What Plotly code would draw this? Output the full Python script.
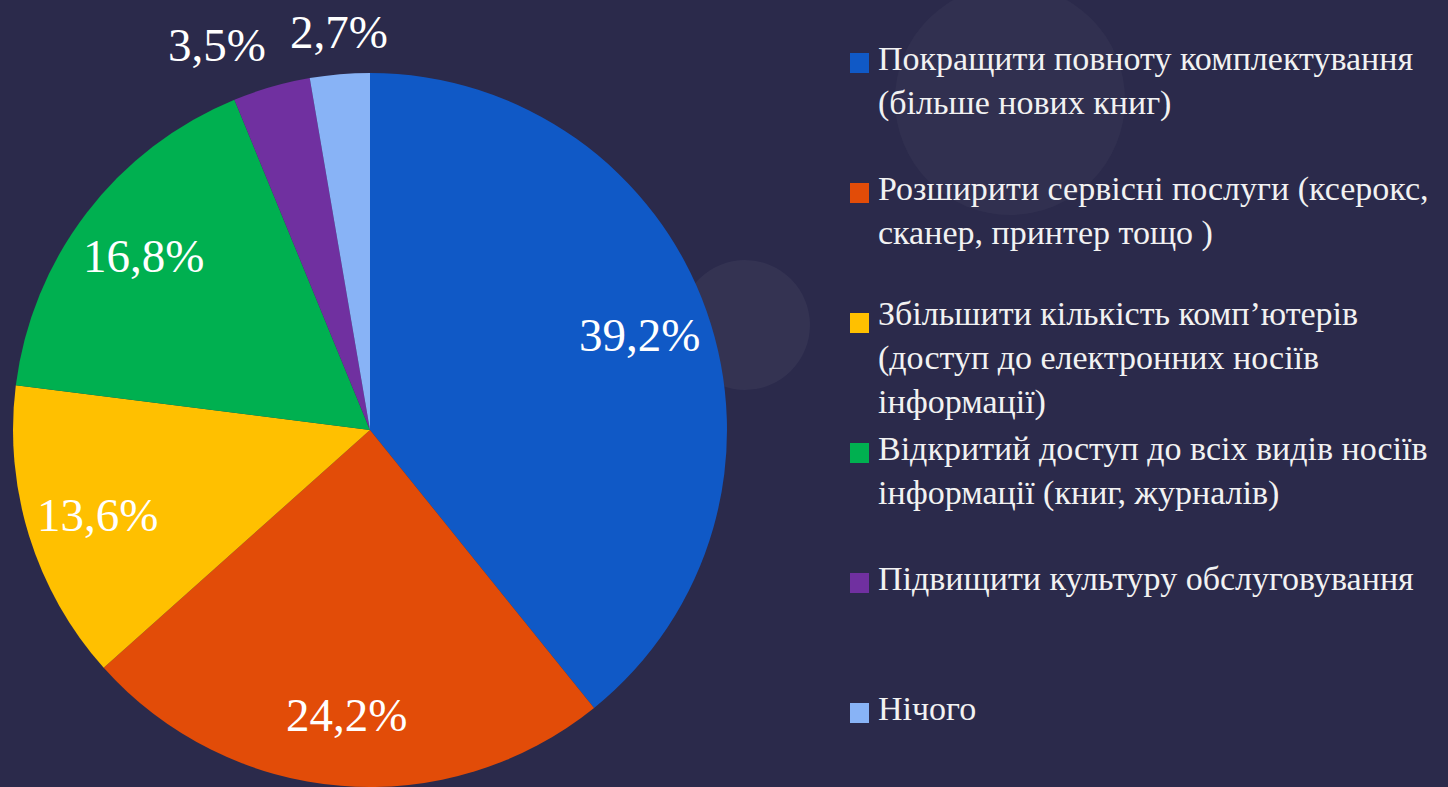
import math
import plotly.graph_objects as go

# data
categories = [
    "Покращити повноту комплектування<br>(більше нових книг)",
    "Розширити сервісні послуги (ксерокс,<br>сканер, принтер тощо )",
    "Збільшити кількість комп’ютерів<br>(доступ до електронних носіїв<br>інформації)",
    "Відкритий доступ до всіх видів носіїв<br>інформації (книг, журналів)",
    "Підвищити культуру обслуговування",
    "Нічого",
]
values = [39.2, 24.2, 13.6, 16.8, 3.5, 2.7]
slice_colors = ["#1059c6", "#e24c08", "#ffc000", "#00b050", "#7030a0", "#88b3f6"]

W, H = 1448, 787
BG = "#2b2a4b"
FONT = "Liberation Serif"

# pie geometry in pixels (domain -> centre / radius)
PIE_X = (13, 727)
PIE_Y = (73, 787)
cx = (PIE_X[0] + PIE_X[1]) / 2
cy = (PIE_Y[0] + PIE_Y[1]) / 2
R = min(PIE_X[1] - PIE_X[0], PIE_Y[1] - PIE_Y[0]) / 2

fig = go.Figure(
    go.Pie(
        labels=categories,
        values=values,
        textinfo="none",
        marker=dict(colors=slice_colors, line=dict(width=0)),
        sort=False,
        direction="clockwise",
        rotation=0,
        showlegend=False,
        hoverinfo="label+percent",
        domain=dict(x=[PIE_X[0] / W, PIE_X[1] / W], y=[1 - PIE_Y[1] / H, 1 - PIE_Y[0] / H]),
    )
)

# soft background circles (decoration)
for bx, by, br, op in [(1010, 100, 115, 0.03), (745, 325, 65, 0.045)]:
    fig.add_shape(
        type="circle", xref="paper", yref="paper", layer="below",
        x0=(bx - br) / W, x1=(bx + br) / W, y0=1 - (by + br) / H, y1=1 - (by - br) / H,
        fillcolor="white", opacity=op, line=dict(width=0),
    )

# percentage labels, placed from the slice mid-angles
total = sum(values)
cum = 0.0
for v in values:
    mid = (cum + v / 2) / total * 2 * math.pi
    cum += v
    txt = f"{v:.1f}%".replace(".", ",")
    share = v / total
    if share > 0.05:
        rr, xa, ya = 0.8 * R, "center", "middle"
    else:
        s = math.sin(mid)
        rr = 1.04 * R
        xa = "center" if abs(s) < 0.1 else ("right" if s < 0 else "left")
        ya = "bottom"
    px_ = cx + rr * math.sin(mid)
    py_ = cy - rr * math.cos(mid)
    fig.add_annotation(
        text=txt, xref="paper", yref="paper", x=px_ / W, y=1 - py_ / H,
        xanchor=xa, yanchor=ya, showarrow=False,
        font=dict(family=FONT, size=47, color="white"),
    )

# legend drawn as squares + text blocks
legend_tops = [50, 180, 305, 440, 570, 700]
square_tops = [53, 183, 313, 443, 573, 703]
for name, col, ty, sy in zip(categories, slice_colors, legend_tops, square_tops):
    fig.add_shape(
        type="rect", xref="paper", yref="paper",
        x0=850 / W, x1=869 / W, y0=1 - (sy + 20) / H, y1=1 - sy / H,
        fillcolor=col, line=dict(width=0),
    )
    fig.add_annotation(
        text=name, xref="paper", yref="paper",
        x=876 / W, y=1 - (ty - 12) / H, xanchor="left", yanchor="top",
        align="left", showarrow=False,
        font=dict(family=FONT, size=34, color="#f2f2f2"),
    )

fig.update_layout(
    template="none",
    width=W,
    height=H,
    margin=dict(l=0, r=0, t=0, b=0),
    paper_bgcolor=BG,
    plot_bgcolor=BG,
    font=dict(family=FONT, color="white"),
)

fig.write_html(
    "out.html",
    config={"displayModeBar": False},
    post_script="document.body.style.margin='0';document.body.style.background='%s';" % BG,
)
